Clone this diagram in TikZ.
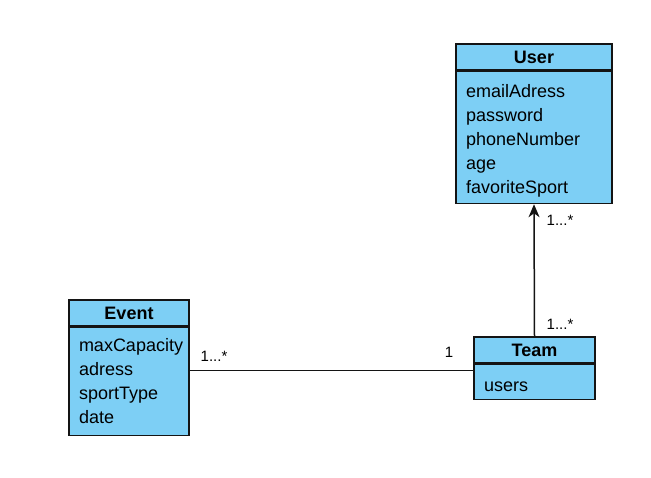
\documentclass[tikz,border=0pt]{standalone}
\usepackage{fontspec}
\setmainfont{Liberation Sans}
\usepackage{tikz}
\usetikzlibrary{arrows.meta,positioning,calc}
\usepackage{xcolor}
\definecolor{classfill}{RGB}{125,207,245}
\definecolor{classline}{RGB}{20,20,20}

\tikzset{
  classhead/.style={draw=classline, fill=classfill, line width=1.5pt, font=\fontsize{18}{24}\selectfont\bfseries,
    align=center, inner xsep=10pt, inner ysep=0pt, minimum height=26pt},
  classbody/.style={draw=classline, fill=classfill, line width=1.5pt, font=\fontsize{18}{24}\selectfont,
    align=left, inner xsep=10pt, inner ysep=0pt, anchor=north},
  mult/.style={font=\fontsize{15}{17}\selectfont},
  assoc/.style={draw=classline, line width=1.5pt}
}

\begin{document}
\begin{tikzpicture}[x=1pt,y=-1pt]
    \useasboundingbox (0,0) rectangle (651,478);

    % User
    \node[classhead, text width=136pt] (userhead) at (534,57) {User};
    \node[classbody, text width=136pt, minimum height=132pt] (userbody) at (userhead.south)
      {\rule{0pt}{19pt}emailAdress\\password\\phoneNumber\\age\\favoriteSport};

    % Event
    \node[classhead, text width=100pt] (eventhead) at (129,313) {Event};
    \node[classbody, text width=100pt, minimum height=108pt] (eventbody) at (eventhead.south)
      {maxCapacity\\adress\\sportType\\date};

    % Team
    \node[classhead, text width=101pt] (teamhead) at (534.5,350) {Team};
    \node[classbody, text width=101pt, minimum height=35pt] (teambody) at (teamhead.south)
      {\rule{0pt}{19pt}users};

    % Associations
    \draw[assoc,-{Stealth[length=13pt,width=11pt,inset=4pt]}] (teamhead.north) -- (userbody.south);
    \draw[assoc] ([yshift=11pt]eventbody.east) -- ([yshift=11pt]eventbody.east -| teambody.west);

    % Multiplicities
    \node[mult] (multuser) at (560,220) {1...*};
    \node[mult] (multteamup) at (560,324) {1...*};
    \node[mult] (multevent) at (214,356) {1...*};
    \node[mult] (multteamleft) at (449,352) {1};
  \end{tikzpicture}
\end{document}
